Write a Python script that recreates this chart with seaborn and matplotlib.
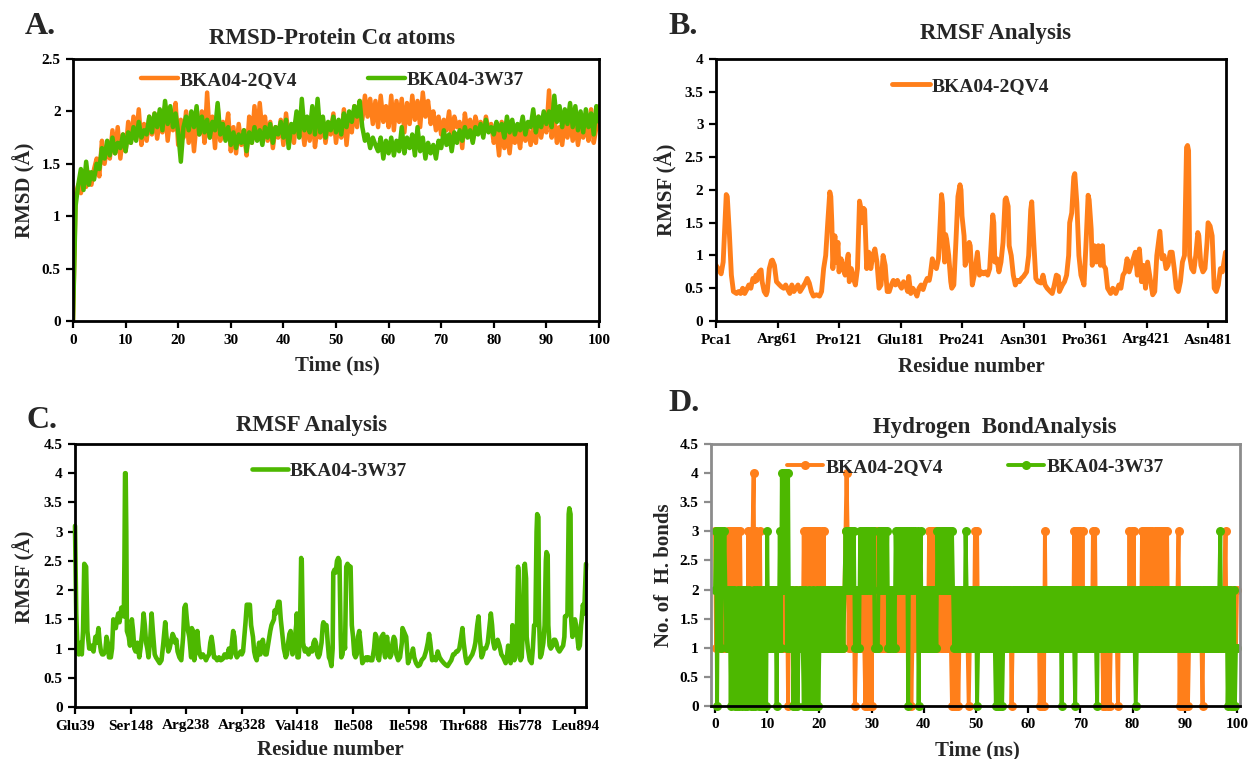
import numpy as np
import matplotlib
matplotlib.use("Agg")
import matplotlib.pyplot as plt
from matplotlib.ticker import FuncFormatter
import seaborn as sns

# ---------------- DATA ----------------
ORANGE = "#FF7F1A"
GREEN = "#4DB800"

# Panel A: RMSD (0.5 ns steps, 0..100 ns)
rmsd_time = np.arange(0, 100.5, 0.5)
rmsd_2qv4 = [
    0, 1.2, 1.3, 1.22, 1.35, 1.28, 1.42, 1.3, 1.45, 1.55,
    1.38, 1.72, 1.5, 1.68, 1.55, 1.82, 1.6, 1.85, 1.55, 1.78,
    1.62, 1.9, 1.7, 1.95, 1.75, 2.02, 1.68, 1.88, 1.72, 1.95,
    1.78, 1.98, 1.74, 1.92, 1.8, 2.05, 1.72, 1.95, 1.82, 2.08,
    1.68, 1.92, 1.75, 2.0, 1.7, 1.95, 1.62, 1.9, 1.78, 2.0,
    1.7, 2.18, 1.75, 1.95, 1.65, 2.05, 1.72, 1.9, 1.8, 1.98,
    1.62, 1.85, 1.6, 1.88, 1.68, 1.82, 1.58, 1.95, 1.7, 2.05,
    1.75, 2.08, 1.8, 1.95, 1.72, 1.9, 1.65, 1.85, 1.75, 1.92,
    1.68, 1.98, 1.75, 1.85, 1.7, 1.95, 1.8, 1.88, 1.68, 1.92,
    1.72, 2.0, 1.66, 1.85, 1.75, 1.92, 1.7, 1.88, 1.78, 1.98,
    1.7, 1.9, 1.75, 2.02, 1.68, 1.95, 1.8, 2.05, 1.85, 2.1,
    1.92, 2.15, 1.95, 2.12, 1.88, 2.1, 1.85, 2.15, 1.9, 2.05,
    1.85, 2.15, 1.82, 2.1, 1.9, 2.12, 1.8, 2.08, 1.88, 2.15,
    1.92, 2.1, 1.85, 2.18, 1.95, 2.1, 1.88, 2.0, 1.82, 1.95,
    1.78, 1.92, 1.82, 2.0, 1.75, 1.95, 1.85, 1.9, 1.65, 1.98,
    1.8, 1.92, 1.72, 1.95, 1.85, 1.9, 1.78, 1.95, 1.82, 1.88,
    1.7, 1.82, 1.58, 1.9, 1.65, 1.8, 1.6, 1.85, 1.7, 1.8,
    1.65, 1.9, 1.72, 1.82, 1.68, 1.85, 1.7, 1.95, 1.75, 1.9,
    1.8, 2.2, 1.75, 1.95, 1.7, 1.85, 1.68, 1.9, 1.75, 1.92,
    1.72, 1.88, 1.68, 1.85, 1.75, 1.9, 1.72, 2.02, 1.7, 1.85,
    2.05,
]
rmsd_3w37 = [
    0, 1.1, 1.3, 1.45, 1.25, 1.52, 1.3, 1.42, 1.35, 1.5,
    1.45, 1.65, 1.55, 1.72, 1.58, 1.75, 1.6, 1.7, 1.65, 1.78,
    1.62, 1.8, 1.7, 1.85, 1.72, 1.9, 1.75, 1.82, 1.78, 1.95,
    1.8, 1.98, 1.85, 2.02, 1.82, 2.1, 1.88, 2.05, 1.85, 1.98,
    1.8, 1.52, 1.85, 1.95, 1.82, 2.0, 1.85, 2.05, 1.78, 1.95,
    1.8, 1.92, 1.75, 1.9, 1.82, 2.08, 1.78, 1.88, 1.72, 1.85,
    1.68, 1.8, 1.65, 1.78, 1.7, 1.82, 1.62, 1.8, 1.7, 1.85,
    1.72, 1.82, 1.68, 1.85, 1.75, 1.88, 1.7, 1.85, 1.78, 1.9,
    1.75, 1.92, 1.65, 1.88, 1.8, 2.0, 1.75, 2.12, 1.82, 1.95,
    1.8, 2.05, 1.78, 2.12, 1.8, 1.95, 1.75, 1.9, 1.82, 1.95,
    1.8, 1.92, 1.78, 1.98, 1.85, 2.0, 1.9, 2.05, 1.95, 2.1,
    1.85, 1.72, 1.78, 1.65, 1.75, 1.68, 1.62, 1.75, 1.55, 1.72,
    1.6, 1.75, 1.58, 1.72, 1.62, 1.85, 1.6, 1.75, 1.65, 1.78,
    1.58, 1.85, 1.62, 1.75, 1.55, 1.7, 1.6, 1.68, 1.55, 1.72,
    1.65, 1.82, 1.68, 1.78, 1.62, 1.8, 1.7, 1.82, 1.72, 1.85,
    1.75, 1.82, 1.7, 1.85, 1.78, 1.88, 1.75, 1.92, 1.8, 1.85,
    1.78, 1.9, 1.82, 1.88, 1.75, 1.95, 1.8, 1.92, 1.78, 1.88,
    1.82, 1.95, 1.78, 1.9, 1.85, 2.02, 1.8, 1.95, 1.85, 2.0,
    1.88, 2.0, 1.85, 2.15, 1.9, 2.05, 1.85, 2.02, 1.88, 2.08,
    1.85, 2.05, 1.82, 2.0, 1.8, 2.02, 1.85, 1.98, 1.78, 2.05,
    1.9,
]

# Panel B: RMSF BKA04-2QV4
resB = [1, 4, 6, 8, 11, 12, 14, 16, 18, 21, 23, 25, 27, 29, 31, 33, 35, 37, 39, 40,
        41, 43, 45, 46, 48, 50, 51, 53, 55, 56, 58, 60, 63, 65, 67, 69, 71, 73, 75, 77,
        79, 81, 83, 85, 88, 90, 92, 94, 96, 99, 102, 104, 106, 108, 110, 112, 113, 114, 115, 117,
        118, 120, 121, 123, 125, 127, 128, 130, 131, 133, 135, 137, 139, 141, 142, 143, 145, 146, 148, 150,
        152, 154, 156, 158, 160, 162, 164, 166, 168, 170, 172, 174, 176, 178, 180, 182, 184, 186, 188, 189,
        191, 193, 195, 197, 199, 201, 203, 205, 207, 209, 210, 212, 214, 216, 218, 221, 222, 223, 224, 225,
        226, 228, 230, 231, 233, 235, 237, 239, 240, 241, 243, 244, 246, 248, 249, 251, 253, 256, 258, 260,
        262, 264, 266, 268, 271, 272, 273, 275, 277, 279, 281, 283, 284, 286, 287, 289, 291, 293, 295, 297,
        299, 301, 304, 306, 308, 309, 311, 313, 315, 318, 320, 322, 324, 327, 329, 331, 333, 335, 336, 339,
        341, 343, 345, 346, 348, 350, 351, 353, 355, 357, 360, 362, 364, 365, 367, 368, 370, 372, 374, 376,
        378, 379, 381, 383, 386, 388, 390, 391, 394, 396, 398, 400, 402, 404, 406, 408, 410, 412, 414, 415,
        416, 418, 420, 422, 424, 427, 429, 431, 433, 434, 436, 438, 440, 442, 444, 446, 448, 450, 452, 454,
        456, 458, 460, 461, 462, 463, 465, 467, 469, 471, 472, 474, 476, 478, 480, 481, 483, 485, 487, 489,
        491, 493, 495, 498]
rmsfB = [0.85, 0.78, 0.72, 0.9, 1.93, 1.9, 1.35, 0.7, 0.45, 0.42, 0.45, 0.42, 0.5, 0.42, 0.48, 0.55, 0.5, 0.65, 0.6, 0.7,
         0.62, 0.75, 0.78, 0.6, 0.45, 0.4, 0.45, 0.8, 0.92, 0.93, 0.85, 0.6, 0.55, 0.52, 0.5, 0.55, 0.48, 0.42, 0.55, 0.45,
         0.5, 0.55, 0.45, 0.5, 0.58, 0.65, 0.58, 0.45, 0.38, 0.4, 0.38, 0.45, 0.8, 1.0, 1.5, 1.97, 1.9, 1.5, 0.8, 1.3,
         0.9, 1.2, 0.75, 0.95, 0.8, 0.7, 0.85, 1.02, 0.6, 0.8, 0.65, 0.55, 0.8, 1.83, 1.75, 1.5, 1.72, 1.7, 0.8, 1.05,
         0.8, 1.0, 1.1, 0.9, 0.5, 0.55, 1.0, 0.85, 0.45, 0.45, 0.55, 0.62, 0.55, 0.62, 0.55, 0.5, 0.6, 0.55, 0.45, 0.68,
         0.42, 0.5, 0.45, 0.38, 0.5, 0.55, 0.48, 0.58, 0.65, 0.62, 0.7, 0.95, 0.85, 0.8, 0.95, 1.93, 1.8, 1.2, 0.9, 1.32,
         1.25, 1.0, 0.6, 0.5, 0.55, 1.2, 1.9, 2.08, 2.0, 1.6, 1.3, 0.85, 0.95, 1.2, 1.15, 0.55, 0.7, 1.05, 0.7, 0.75,
         0.72, 0.75, 0.7, 0.8, 1.62, 1.5, 0.9, 0.95, 0.75, 0.9, 1.2, 1.85, 1.88, 1.75, 1.15, 1.0, 0.7, 0.55, 0.62, 0.6,
         0.65, 0.68, 0.75, 1.0, 1.7, 1.82, 1.2, 0.65, 0.6, 0.58, 0.7, 0.55, 0.5, 0.45, 0.42, 0.55, 0.7, 0.68, 0.45, 0.55,
         0.6, 0.7, 1.0, 1.5, 1.65, 2.2, 2.25, 1.8, 1.0, 0.7, 0.55, 1.2, 1.92, 1.85, 1.4, 0.85, 1.15, 0.9, 1.15, 0.85,
         1.15, 0.85, 0.8, 0.5, 0.42, 0.5, 0.45, 0.42, 0.55, 0.5, 0.7, 0.75, 0.95, 0.75, 0.85, 0.95, 1.05, 0.7, 1.1, 0.9,
         0.6, 0.85, 0.5, 0.9, 0.7, 0.4, 0.45, 1.0, 1.25, 1.37, 0.95, 1.0, 0.8, 0.85, 1.05, 1.05, 0.8, 0.5, 0.45, 0.6,
         0.9, 1.0, 2.65, 2.68, 2.6, 1.0, 0.8, 0.75, 1.0, 1.35, 1.3, 0.85, 0.75, 0.8, 1.2, 1.5, 1.45, 1.3, 0.5, 0.45,
         0.55, 0.8, 0.75, 1.05]
ticksB = [1, 61, 121, 181, 241, 301, 361, 421, 481]
labelsB = ["Pca1", "Arg61", "Pro121", "Glu181", "Pro241", "Asn301", "Pro361", "Arg421", "Asn481"]

# Panel C: RMSF BKA04-3W37 (category index along residue axis)
idxC = [0, 2, 4, 6, 9, 11, 13, 15, 18, 20, 23, 25, 27, 30, 33, 35, 38, 40, 42, 44,
        46, 49, 51, 53, 55, 58, 60, 62, 64, 66, 68, 70, 72, 75, 77, 79, 80, 81, 82, 83,
        84, 87, 89, 92, 94, 96, 98, 101, 104, 106, 109, 111, 113, 115, 117, 119, 122, 124, 126, 129,
        131, 134, 137, 140, 143, 146, 148, 151, 153, 156, 158, 160, 162, 164, 166, 169, 172, 175, 177, 179,
        181, 183, 185, 188, 189, 191, 193, 196, 198, 200, 202, 204, 207, 210, 212, 214, 217, 219, 221, 223,
        225, 227, 230, 233, 236, 239, 242, 244, 246, 249, 251, 252, 254, 256, 258, 260, 262, 265, 268, 270,
        272, 274, 276, 278, 280, 283, 285, 288, 290, 292, 294, 296, 298, 300, 302, 304, 306, 308, 310, 313,
        316, 318, 320, 322, 323, 325, 327, 329, 331, 333, 336, 338, 341, 343, 345, 347, 349, 351, 352, 354,
        356, 358, 359, 360, 362, 364, 366, 367, 369, 372, 374, 376, 378, 381, 384, 386, 388, 390, 392, 394,
        396, 399, 401, 402, 405, 407, 409, 411, 413, 415, 417, 418, 420, 422, 424, 426, 428, 430, 431, 433,
        435, 437, 439, 441, 444, 446, 448, 450, 452, 454, 456, 458, 460, 462, 465, 468, 471, 473, 475, 478,
        481, 484, 486, 488, 490, 492, 494, 496, 499, 501, 502, 504, 505, 507, 510, 512, 514, 516, 518, 520,
        523, 526, 529, 530, 532, 534, 536, 538, 539, 542, 545, 547, 549, 552, 555, 558, 561, 565, 568, 571,
        573, 575, 578, 581, 584, 587, 590, 593, 597, 600, 603, 606, 609, 612, 614, 617, 619, 622, 625, 627,
        629, 632, 634, 637, 640, 643, 646, 648, 651, 653, 655, 658, 660, 662, 665, 668, 670, 673, 675, 677,
        679, 681, 684, 687, 690, 693, 697, 699, 701, 703, 705, 707, 708, 710, 711, 713, 715, 717, 718, 720,
        721, 723, 725, 727, 728, 730, 731, 733, 736, 739, 741, 743, 745, 747, 748, 750, 751, 753, 755, 758,
        760, 762, 763, 765, 766, 768, 770, 773, 775, 777, 779, 781, 784, 787, 790, 792, 793, 795, 797, 799,
        800, 802, 803, 805, 807, 809, 811, 813, 815, 817, 819, 820, 822, 824, 827]
rmsfC = [3.1, 1.6, 1.0, 0.9, 1.1, 0.9, 1.3, 2.45, 2.4, 1.3, 1.0, 1.0, 1.05, 0.95, 1.2, 1.1, 1.35, 1.1, 0.95, 0.9,
         0.9, 0.95, 1.2, 1.1, 0.85, 0.85, 1.0, 1.5, 1.4, 1.35, 1.5, 1.6, 1.45, 1.7, 1.6, 1.55, 2.5, 4.0, 4.0, 3.0,
         1.3, 1.2, 1.05, 1.5, 1.3, 1.0, 0.95, 1.1, 0.85, 1.0, 1.3, 1.6, 1.4, 1.1, 1.0, 0.85, 1.2, 1.6, 1.3, 0.9,
         0.85, 0.8, 0.75, 0.8, 1.1, 1.45, 1.2, 0.95, 1.0, 1.15, 1.25, 1.2, 1.1, 1.15, 0.95, 0.85, 0.8, 1.2, 1.7, 1.75,
         1.5, 1.3, 1.2, 0.85, 1.35, 1.3, 0.8, 1.0, 1.3, 1.05, 0.9, 0.85, 0.9, 0.85, 0.8, 0.85, 0.9, 1.1, 1.2, 1.05,
         0.85, 0.85, 0.8, 0.85, 0.8, 0.82, 0.9, 0.85, 0.85, 1.0, 0.9, 0.85, 1.1, 1.3, 1.2, 0.9, 0.85, 0.9, 0.95, 0.9,
         0.95, 1.2, 1.45, 1.75, 1.75, 1.75, 1.4, 1.2, 0.95, 0.85, 0.8, 0.95, 1.1, 0.9, 1.1, 1.15, 1.0, 0.9, 0.9, 1.1,
         1.3, 1.4, 1.45, 1.5, 1.65, 1.6, 1.7, 1.8, 1.8, 1.5, 1.2, 1.0, 0.85, 0.9, 1.1, 1.25, 1.3, 1.0, 0.9, 1.0,
         1.2, 1.4, 1.6, 0.85, 0.85, 1.2, 2.55, 2.5, 1.1, 0.95, 1.0, 0.95, 0.9, 1.0, 0.95, 1.1, 1.15, 1.1, 0.9, 0.85,
         0.9, 1.1, 1.4, 1.45, 1.4, 1.4, 1.1, 0.85, 0.8, 0.7, 1.0, 2.3, 2.35, 2.3, 2.5, 2.55, 2.5, 1.2, 0.85, 0.9,
         1.2, 1.0, 2.4, 2.45, 2.4, 2.4, 1.4, 1.2, 0.9, 0.85, 0.9, 1.2, 1.3, 1.1, 0.75, 0.8, 0.85, 0.8, 0.85, 0.8,
         0.8, 1.0, 1.25, 1.2, 0.85, 0.8, 1.0, 1.2, 1.25, 0.9, 0.85, 1.1, 1.2, 1.0, 0.85, 0.9, 1.1, 1.2, 1.15, 0.9,
         0.8, 0.85, 1.1, 1.35, 1.3, 1.25, 1.2, 0.9, 0.75, 0.85, 0.9, 1.0, 0.85, 0.75, 0.7, 0.72, 0.8, 0.85, 0.95, 1.1,
         1.25, 1.1, 0.8, 0.85, 0.8, 0.95, 0.85, 0.8, 0.75, 0.72, 0.7, 0.75, 0.8, 0.9, 0.9, 0.95, 0.95, 1.0, 1.2, 1.35,
         1.1, 0.85, 0.75, 0.8, 0.85, 0.9, 1.0, 1.1, 1.4, 1.55, 1.2, 0.85, 0.9, 1.0, 1.0, 1.1, 1.3, 1.6, 1.4, 1.1,
         1.0, 1.05, 1.15, 1.05, 0.9, 0.85, 0.75, 0.85, 1.05, 0.9, 0.75, 1.0, 1.4, 1.2, 0.8, 0.85, 1.2, 2.4, 2.3, 1.0,
         0.8, 0.85, 1.4, 2.4, 2.45, 2.2, 1.2, 1.0, 0.8, 0.75, 1.0, 1.4, 1.4, 3.0, 3.3, 3.25, 1.5, 0.85, 0.9, 1.1,
         1.4, 2.5, 2.65, 2.6, 1.4, 1.05, 1.0, 1.05, 1.15, 1.15, 1.1, 1.0, 0.95, 1.0, 1.05, 1.2, 1.55, 1.55, 1.6, 3.3,
         3.4, 3.3, 1.5, 1.2, 1.3, 1.5, 1.4, 1.2, 1.0, 1.05, 1.4, 1.5, 1.75, 1.6, 2.45]
ticksC = [0, 90, 180, 270, 360, 450, 540, 630, 720, 810]
labelsC = ["Glu39", "Ser148", "Arg238", "Arg328", "Val418", "Ile508", "Ile598", "Thr688", "His778", "Leu894"]

# Panel D: number of hydrogen bonds (0.2 ns steps, 0..100 ns)
hb_time = np.linspace(0, 100, 501)
hb_2qv4_str = (
    "3121212121" "2131313131" "3131312121" "2131313413" "1213121212"
    "1212121212" "1212121212" "0212121212" "1212131313" "1313131313"
    "3131312121" "2121212121" "2121234313" "1212012121" "2121030303"
    "0313131313" "1212121212" "1212121212" "1212121201" "2121212121"
    "1212131313" "1313131313" "1212121020" "1020121212" "1210121213"
    "1312121212" "1212121212" "1212121212" "1212012121" "2121212121"
    "2121212121" "2010203121" "2121212121" "2121212121" "2121313131"
    "3131212121" "2131312121" "2102020201" "2121210212" "1212121313"
    "1312121213" "1313131313" "1313131313" "1313121212" "1212302020"
    "2020121212" "1212121021" "2121212121" "2121212123" "1212121021"
    "2"
)
hb_3w37_str = (
    "2303231323" "2121202120" "1020120210" "2012010201" "2102012010"
    "3121212120" "2131424241" "4121201020" "1212102010" "2010201020"
    "1212121212" "2121212121" "2121232323" "2323121213" "2323232323"
    "3231111323" "2323231212" "1213232323" "2323303232" "3232302312"
    "1212121212" "1213232323" "2323232321" "2121212121" "3212121212"
    "2012121212" "1212121210" "2020201212" "1212121212" "1212121212"
    "1212121212" "1212121212" "1212121212" "1202121212" "1212102121"
    "2121212121" "2121210212" "1212121212" "1212121212" "1212121212"
    "1210121212" "1212121212" "1212121212" "1212121212" "1212121212"
    "1212121212" "1212121212" "1212121212" "1212312121" "2012010201"
    "1"
)
hb_2qv4 = [int(c) for c in hb_2qv4_str]
hb_3w37 = [int(c) for c in hb_3w37_str]

# ---------------- STYLE ----------------
sns.set_style("white")
plt.rcParams["font.family"] = ["Liberation Serif", "DejaVu Serif"]
plt.rcParams["font.weight"] = "bold"
plt.rcParams["axes.labelweight"] = "bold"
plt.rcParams["axes.linewidth"] = 2.0

W, H = 1252, 759
fig = plt.figure(figsize=(W / 100, H / 100), dpi=100)


def add_ax(x0, y0, x1, y1):
    return fig.add_axes([x0 / W, 1 - y1 / H, (x1 - x0) / W, (y1 - y0) / H])


def ftext(x, y, s, size, **kw):
    fig.text(x / W, 1 - y / H, s, fontsize=size, fontweight="bold",
             ha=kw.pop("ha", "center"), va=kw.pop("va", "center"), **kw)


fmt = FuncFormatter(lambda v, p: f"{v:g}")
TICK_FS = 11
LABEL_FS = 15
LEG_FS = 14
TITLE_FS = 16.5
LETTER_FS = 23


def style_ax(ax, spine_color="black"):
    for s in ax.spines.values():
        s.set_color(spine_color)
        s.set_linewidth(2)
    ax.tick_params(direction="out", length=5, width=1.6, labelsize=TICK_FS, pad=4,
                   colors="black")
    ax.tick_params(axis="both", which="both", bottom=True, left=True)
    ax.yaxis.set_major_formatter(fmt)


def set_labels(ax, xl, yl, xpos, ypos):
    ax.set_xlabel(xl, fontsize=LABEL_FS, fontweight="bold")
    ax.set_ylabel(yl, fontsize=LABEL_FS, fontweight="bold")
    ax.xaxis.set_label_coords(*xpos)
    ax.yaxis.set_label_coords(*ypos)
    ax.xaxis.label.set_va("center")
    ax.yaxis.label.set_va("center")


# ---------------- PANEL A ----------------
axA = add_ax(73, 59, 599, 321)
sns.lineplot(x=rmsd_time, y=rmsd_2qv4, ax=axA, color=ORANGE, lw=3.2,
             label="BKA04-2QV4", estimator=None, sort=False)
sns.lineplot(x=rmsd_time, y=rmsd_3w37, ax=axA, color=GREEN, lw=3.2,
             label="BKA04-3W37", estimator=None, sort=False)
axA.set_xlim(0, 100)
axA.set_ylim(0, 2.5)
axA.set_xticks(range(0, 101, 10))
axA.set_yticks(np.arange(0, 2.51, 0.5))
style_ax(axA)
axA.xaxis.set_major_formatter(fmt)
set_labels(axA, "Time (ns)", "RMSD (Å)", (0.502, -0.168), (-0.093, 0.5))
axA.legend(loc="center left", bbox_to_anchor=(0.129, 0.92), ncol=2, frameon=False,
           fontsize=LEG_FS, handlelength=1.9, handletextpad=0.12, columnspacing=3.6,
           borderaxespad=0, borderpad=0)

# ---------------- PANEL B ----------------
axB = add_ax(716, 59, 1226, 321)
sns.lineplot(x=resB, y=rmsfB, ax=axB, color=ORANGE, lw=3.5,
             label="BKA04-2QV4", estimator=None, sort=False)
axB.set_xlim(1, 498.5)
axB.set_ylim(0, 4)
axB.set_yticks(np.arange(0, 4.01, 0.5))
axB.set_xticks(ticksB)
axB.set_xticklabels(labelsB)
style_ax(axB)
set_labels(axB, "Residue number", "RMSF (Å)", (0.5, -0.176), (-0.098, 0.5))
axB.legend(loc="center left", bbox_to_anchor=(0.345, 0.897), frameon=False,
           fontsize=LEG_FS, handlelength=1.95, handletextpad=0.1,
           borderaxespad=0, borderpad=0)

# ---------------- PANEL C ----------------
axC = add_ax(75, 444, 586, 707)
sns.lineplot(x=idxC, y=rmsfC, ax=axC, color=GREEN, lw=3.3,
             label="BKA04-3W37", estimator=None, sort=False, clip_on=False)
axC.set_xlim(0, 827)
axC.set_ylim(0, 4.5)
axC.set_yticks(np.arange(0, 4.51, 0.5))
axC.set_xticks(ticksC)
axC.set_xticklabels(labelsC)
style_ax(axC)
set_labels(axC, "Residue number", "RMSF (Å)", (0.499, -0.163), (-0.1, 0.494))
axC.legend(loc="center left", bbox_to_anchor=(0.346, 0.897), frameon=False,
           fontsize=LEG_FS, handlelength=1.85, handletextpad=0.1,
           borderaxespad=0, borderpad=0)

# ---------------- PANEL D ----------------
axD = add_ax(711, 444, 1240, 706)
sns.lineplot(x=hb_time, y=hb_2qv4, ax=axD, color=ORANGE, lw=2.8, marker="o",
             markersize=6.5, markeredgewidth=0, label="BKA04-2QV4",
             estimator=None, sort=False, clip_on=False)
sns.lineplot(x=hb_time, y=hb_3w37, ax=axD, color=GREEN, lw=2.8, marker="o",
             markersize=6.5, markeredgewidth=0, label="BKA04-3W37",
             estimator=None, sort=False, clip_on=False)
axD.set_xlim(-0.77, 100.57)
axD.set_ylim(0, 4.5)
axD.set_xticks(range(0, 101, 10))
axD.set_yticks(np.arange(0, 4.51, 0.5))
style_ax(axD, spine_color="#8c8c8c")
axD.spines["bottom"].set_color("black")
axD.tick_params(axis="y", colors="#8c8c8c", labelcolor="black")
axD.xaxis.set_major_formatter(fmt)
set_labels(axD, "Time (ns)", "No. of  H. bonds", (0.503, -0.168), (-0.089, 0.5))
axD.legend(loc="center left", bbox_to_anchor=(0.144, 0.912), ncol=2, frameon=False,
           fontsize=LEG_FS, handlelength=1.85, handletextpad=0.15, columnspacing=3.3,
           borderaxespad=0, borderpad=0)

# ---------------- TITLES & PANEL LETTERS ----------------
ftext(332, 39, "RMSD-Protein Cα atoms", TITLE_FS)
ftext(995, 33, "RMSF Analysis", TITLE_FS)
ftext(311, 425, "RMSF Analysis", TITLE_FS)
ftext(995, 427, "Hydrogen  BondAnalysis", TITLE_FS)

ftext(25, 27, "A.", LETTER_FS, ha="left")
ftext(668, 26, "B.", LETTER_FS, ha="left")
ftext(26, 420, "C.", LETTER_FS, ha="left")
ftext(668, 404, "D.", LETTER_FS, ha="left")

fig.savefig("out.png", dpi=100)
